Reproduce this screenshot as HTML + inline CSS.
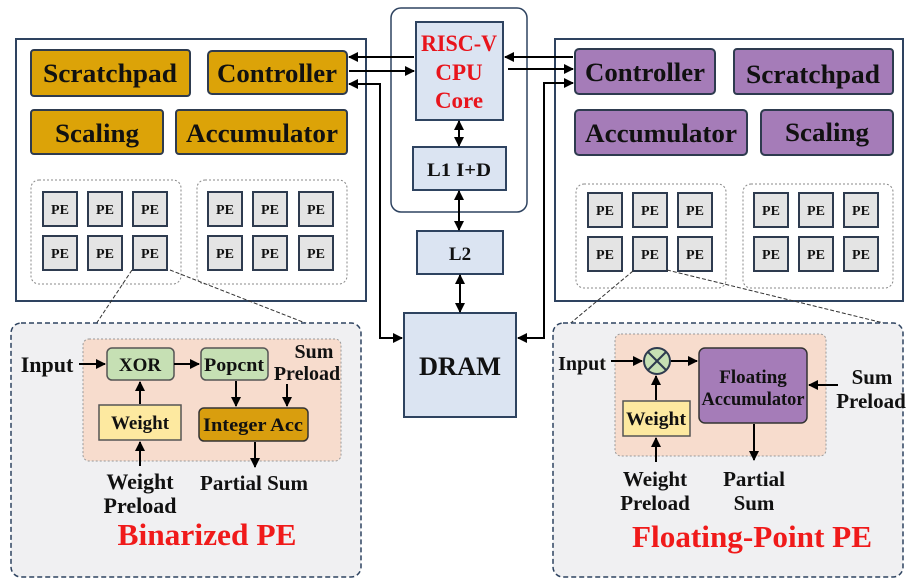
<!DOCTYPE html>
<html><head><meta charset="utf-8"><style>
html,body{margin:0;padding:0;background:#fff;}
svg{display:block;}
text{font-family:"Liberation Serif",serif;font-weight:bold;}
</style></head><body>
<svg width="906" height="586" viewBox="0 0 906 586" xmlns="http://www.w3.org/2000/svg">
<defs>
<marker id="a" viewBox="0 0 10 10" refX="9" refY="5" markerWidth="5" markerHeight="5" orient="auto-start-reverse"><path d="M0,0L10,5L0,10z" fill="#000"/></marker>
</defs>
<rect width="906" height="586" fill="#fff"/>
<!-- left accelerator -->
<rect x="16" y="39" width="350" height="262" fill="#fff" stroke="#2e4360" stroke-width="2"/>
<g fill="#dca308" stroke="#2e3b4f" stroke-width="2">
<rect x="31" y="50" width="159" height="46" rx="3"/>
<rect x="208" y="51" width="139" height="43" rx="4"/>
<rect x="31" y="110" width="132" height="44" rx="3"/>
<rect x="176" y="110" width="171" height="44" rx="3"/>
</g>
<g font-size="26" text-anchor="middle" fill="#111">
<text x="110" y="82" textLength="134" lengthAdjust="spacingAndGlyphs">Scratchpad</text>
<text x="277" y="82" textLength="120" lengthAdjust="spacingAndGlyphs">Controller</text>
<text x="97" y="142" textLength="84" lengthAdjust="spacingAndGlyphs">Scaling</text>
<text x="262" y="142" textLength="152" lengthAdjust="spacingAndGlyphs">Accumulator</text>
</g>
<!-- right accelerator -->
<rect x="555" y="39" width="348" height="262" fill="#fff" stroke="#2e4360" stroke-width="2"/>
<g fill="#a57cb8" stroke="#2e3b4f" stroke-width="2">
<rect x="575" y="49" width="140" height="45" rx="4"/>
<rect x="734" y="49" width="159" height="45" rx="3"/>
<rect x="575" y="110" width="172" height="45" rx="4"/>
<rect x="761" y="110" width="132" height="45" rx="4"/>
</g>
<g font-size="26" text-anchor="middle" fill="#111">
<text x="645" y="81" textLength="120" lengthAdjust="spacingAndGlyphs">Controller</text>
<text x="813" y="83" textLength="134" lengthAdjust="spacingAndGlyphs">Scratchpad</text>
<text x="661" y="142" textLength="152" lengthAdjust="spacingAndGlyphs">Accumulator</text>
<text x="827" y="141" textLength="84" lengthAdjust="spacingAndGlyphs">Scaling</text>
</g>
<!-- PE groups -->
<g fill="none" stroke="#888" stroke-width="1" stroke-dasharray="2,2">
<rect x="31" y="180" width="150" height="104" rx="8"/>
<rect x="197" y="180" width="150" height="104" rx="8"/>
<rect x="576" y="184" width="150" height="104" rx="8"/>
<rect x="743" y="184" width="150" height="104" rx="8"/>
</g>
<g fill="#e4e4e4" stroke="#2e3b4f" stroke-width="2">
<rect x="43" y="192" width="34" height="34"/><rect x="88" y="192" width="34" height="34"/><rect x="133" y="192" width="34" height="34"/>
<rect x="43" y="236" width="34" height="34"/><rect x="88" y="236" width="34" height="34"/><rect x="133" y="236" width="34" height="34"/>
<rect x="208" y="192" width="34" height="34"/><rect x="253" y="192" width="34" height="34"/><rect x="299" y="192" width="34" height="34"/>
<rect x="208" y="236" width="34" height="34"/><rect x="253" y="236" width="34" height="34"/><rect x="299" y="236" width="34" height="34"/>
<rect x="588" y="193" width="34" height="34"/><rect x="633" y="193" width="34" height="34"/><rect x="678" y="193" width="34" height="34"/>
<rect x="588" y="237" width="34" height="34"/><rect x="633" y="237" width="34" height="34"/><rect x="678" y="237" width="34" height="34"/>
<rect x="754" y="193" width="34" height="34"/><rect x="799" y="193" width="34" height="34"/><rect x="844" y="193" width="34" height="34"/>
<rect x="754" y="237" width="34" height="34"/><rect x="799" y="237" width="34" height="34"/><rect x="844" y="237" width="34" height="34"/>
</g>
<g font-size="14" text-anchor="middle" fill="#111">
<text x="60" y="214">PE</text><text x="105" y="214">PE</text><text x="150" y="214">PE</text>
<text x="60" y="258">PE</text><text x="105" y="258">PE</text><text x="150" y="258">PE</text>
<text x="225" y="214">PE</text><text x="270" y="214">PE</text><text x="316" y="214">PE</text>
<text x="225" y="258">PE</text><text x="270" y="258">PE</text><text x="316" y="258">PE</text>
<text x="605" y="215">PE</text><text x="650" y="215">PE</text><text x="695" y="215">PE</text>
<text x="605" y="259">PE</text><text x="650" y="259">PE</text><text x="695" y="259">PE</text>
<text x="771" y="215">PE</text><text x="816" y="215">PE</text><text x="861" y="215">PE</text>
<text x="771" y="259">PE</text><text x="816" y="259">PE</text><text x="861" y="259">PE</text>
</g>
<!-- center -->
<rect x="391" y="8" width="136" height="204" rx="10" fill="#fff" stroke="#2e4360" stroke-width="1.5"/>
<g fill="#dbe4f2" stroke="#2e4360" stroke-width="2">
<rect x="416" y="22" width="87" height="98"/>
<rect x="413" y="147" width="93" height="43"/>
<rect x="417" y="231" width="86" height="43"/>
<rect x="404" y="313" width="112" height="104"/>
</g>
<g font-size="23" text-anchor="middle" fill="#e8141c">
<text x="459" y="51" textLength="76" lengthAdjust="spacingAndGlyphs">RISC-V</text><text x="459" y="80">CPU</text><text x="459" y="108">Core</text>
</g>
<g text-anchor="middle" fill="#111">
<text x="459" y="176" font-size="19" textLength="64" lengthAdjust="spacingAndGlyphs">L1 I+D</text>
<text x="460" y="260" font-size="19">L2</text>
<text x="460" y="375" font-size="26" textLength="82" lengthAdjust="spacingAndGlyphs">DRAM</text>
</g>
<g stroke="#000" stroke-width="2" fill="none">
<line x1="459" y1="121" x2="459" y2="146" marker-start="url(#a)" marker-end="url(#a)"/>
<line x1="459" y1="191" x2="459" y2="230" marker-start="url(#a)" marker-end="url(#a)"/>
<line x1="460" y1="275" x2="460" y2="312" marker-start="url(#a)" marker-end="url(#a)"/>
<line x1="414" y1="57" x2="349" y2="57" marker-end="url(#a)"/>
<line x1="349" y1="71" x2="414" y2="71" marker-end="url(#a)"/>
<polyline points="402,338 380,338 380,84 349,84" marker-start="url(#a)" marker-end="url(#a)"/>
<line x1="573" y1="57" x2="505" y2="57" marker-end="url(#a)"/>
<line x1="508" y1="69" x2="573" y2="69" marker-end="url(#a)"/>
<polyline points="518,338 544,338 544,83 573,83" marker-start="url(#a)" marker-end="url(#a)"/>
</g>
<!-- dashed zoom lines -->
<g stroke="#333" stroke-width="1" stroke-dasharray="4,2" fill="none">
<line x1="132" y1="270" x2="86" y2="339"/>
<line x1="170" y1="270" x2="336" y2="335"/>
<line x1="633" y1="271" x2="560" y2="332"/>
<line x1="667" y1="270" x2="900" y2="327"/>
</g>
<!-- bottom left panel -->
<rect x="11" y="323" width="350" height="254" rx="10" fill="#f0f0f2" stroke="#2e4360" stroke-width="1.5" stroke-dasharray="5,3"/>
<rect x="83" y="339" width="258" height="122" rx="6" fill="#f7dccd" stroke="#999" stroke-width="1" stroke-dasharray="2,2"/>
<rect x="107" y="348" width="67" height="32" rx="5" fill="#c6e0b4" stroke="#555" stroke-width="1.5"/>
<rect x="201" y="348" width="67" height="32" rx="5" fill="#c6e0b4" stroke="#555" stroke-width="1.5"/>
<rect x="99" y="405" width="82" height="35" fill="#fde9a0" stroke="#555" stroke-width="1.5"/>
<rect x="199" y="408" width="109" height="33" rx="5" fill="#d99e0e" stroke="#333" stroke-width="1.5"/>
<g fill="#111" font-size="19" text-anchor="middle">
<text x="140" y="371">XOR</text>
<text x="234" y="371" textLength="60" lengthAdjust="spacingAndGlyphs">Popcnt</text>
<text x="140" y="429">Weight</text>
<text x="253" y="431" textLength="100" lengthAdjust="spacingAndGlyphs">Integer Acc</text>
<text x="47" y="372" font-size="22">Input</text>
<text x="314" y="358" font-size="20">Sum</text>
<text x="307" y="380" font-size="20">Preload</text>
<text x="140" y="489" font-size="22">Weight</text>
<text x="140" y="513" font-size="22">Preload</text>
<text x="254" y="490" font-size="21">Partial Sum</text>
</g>
<text x="207" y="545" font-size="31" fill="#f01a1a" text-anchor="middle" textLength="179" lengthAdjust="spacingAndGlyphs">Binarized PE</text>
<g stroke="#000" stroke-width="2" fill="none">
<line x1="79" y1="364" x2="105" y2="364" marker-end="url(#a)"/>
<line x1="174" y1="364" x2="199" y2="364" marker-end="url(#a)"/>
<line x1="140" y1="404" x2="140" y2="382" marker-end="url(#a)"/>
<line x1="140" y1="466" x2="140" y2="442" marker-end="url(#a)"/>
<line x1="236" y1="381" x2="236" y2="406" marker-end="url(#a)"/>
<line x1="287" y1="384" x2="287" y2="406" marker-end="url(#a)"/>
<line x1="255" y1="442" x2="255" y2="467" marker-end="url(#a)"/>
</g>
<!-- bottom right panel -->
<rect x="553" y="323" width="350" height="254" rx="10" fill="#f0f0f2" stroke="#2e4360" stroke-width="1.5" stroke-dasharray="5,3"/>
<rect x="615" y="334" width="211" height="122" rx="6" fill="#f7dccd" stroke="#999" stroke-width="1" stroke-dasharray="2,2"/>
<circle cx="657" cy="361" r="13" fill="#c6e0b4" stroke="#2e3b4f" stroke-width="2"/>
<line x1="648" y1="352" x2="666" y2="370" stroke="#2e3b4f" stroke-width="2"/>
<line x1="666" y1="352" x2="648" y2="370" stroke="#2e3b4f" stroke-width="2"/>
<rect x="699" y="348" width="108" height="75" rx="6" fill="#a57cb8" stroke="#333" stroke-width="1.5"/>
<rect x="623" y="401" width="67" height="35" fill="#fde9a0" stroke="#555" stroke-width="1.5"/>
<g fill="#111" font-size="19" text-anchor="middle">
<text x="753" y="383">Floating</text>
<text x="753" y="405" textLength="103" lengthAdjust="spacingAndGlyphs">Accumulator</text>
<text x="656" y="425" textLength="60" lengthAdjust="spacingAndGlyphs">Weight</text>
<text x="582" y="370" font-size="20">Input</text>
<text x="872" y="384" font-size="21">Sum</text>
<text x="871" y="408" font-size="21">Preload</text>
<text x="655" y="486" font-size="21">Weight</text>
<text x="655" y="510" font-size="21">Preload</text>
<text x="754" y="486" font-size="21">Partial</text>
<text x="754" y="510" font-size="21">Sum</text>
</g>
<text x="752" y="547" font-size="31" fill="#f01a1a" text-anchor="middle" textLength="240" lengthAdjust="spacingAndGlyphs">Floating-Point PE</text>
<g stroke="#000" stroke-width="2" fill="none">
<line x1="611" y1="361" x2="642" y2="361" marker-end="url(#a)"/>
<line x1="671" y1="361" x2="697" y2="361" marker-end="url(#a)"/>
<line x1="656" y1="400" x2="656" y2="376" marker-end="url(#a)"/>
<line x1="656" y1="462" x2="656" y2="438" marker-end="url(#a)"/>
<line x1="838" y1="385" x2="809" y2="385" marker-end="url(#a)"/>
<line x1="754" y1="424" x2="754" y2="460" marker-end="url(#a)"/>
</g>
</svg>
</body></html>
